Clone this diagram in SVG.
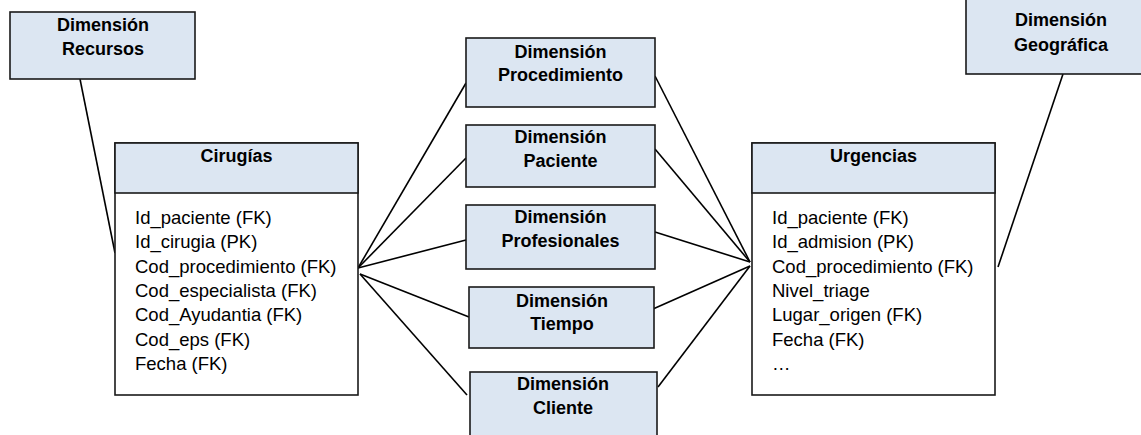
<svg xmlns="http://www.w3.org/2000/svg" width="1141" height="435" viewBox="0 0 1141 435">
  <style>
    .dim { fill: #dce6f2; stroke: #1a1a1a; stroke-width: 1.6; }
    .box { fill: #ffffff; stroke: #1a1a1a; stroke-width: 1.6; }
    .hdr { fill: #dce6f2; stroke: #1a1a1a; stroke-width: 1.6; }
    .t { font-family: "Liberation Sans", Arial, sans-serif; font-size: 18px; font-weight: bold; fill: #000; text-anchor: middle; }
    .f { font-family: "Liberation Sans", Arial, sans-serif; font-size: 18.5px; fill: #000; }
    .c { stroke: #000; stroke-width: 1.6; fill: none; }
  </style>
  <rect width="1141" height="435" fill="#ffffff"/>

  <g id="connectors">
    <line class="c" x1="80" y1="79" x2="115" y2="253"/>
    <line class="c" x1="358" y1="268" x2="466" y2="83"/>
    <line class="c" x1="358" y1="268" x2="466" y2="158"/>
    <line class="c" x1="358" y1="268" x2="466" y2="240"/>
    <line class="c" x1="360" y1="274" x2="469" y2="317"/>
    <line class="c" x1="360" y1="274" x2="467" y2="395"/>
    <line class="c" x1="655" y1="76" x2="750" y2="262"/>
    <line class="c" x1="655" y1="149" x2="750" y2="262"/>
    <line class="c" x1="655" y1="232" x2="750" y2="262"/>
    <line class="c" x1="653" y1="309" x2="750" y2="266"/>
    <line class="c" x1="658" y1="387" x2="750" y2="266"/>
    <line class="c" x1="1063" y1="74" x2="998" y2="267"/>
  </g>

  <g id="dim-recursos">
    <rect class="dim" x="10" y="12" width="185" height="67"/>
    <text class="t" x="103" y="31">Dimensión</text>
    <text class="t" x="103" y="55">Recursos</text>
  </g>

  <g id="dim-geografica">
    <rect class="dim" x="966" y="-1" width="190" height="75"/>
    <text class="t" x="1061" y="26">Dimensión</text>
    <text class="t" x="1061" y="51">Geográfica</text>
  </g>

  <g id="dim-procedimiento">
    <rect class="dim" x="466" y="38" width="189" height="69"/>
    <text class="t" x="560.5" y="58">Dimensión</text>
    <text class="t" x="560.5" y="81">Procedimiento</text>
  </g>

  <g id="dim-paciente">
    <rect class="dim" x="466" y="125" width="189" height="62"/>
    <text class="t" x="560.5" y="143">Dimensión</text>
    <text class="t" x="560.5" y="167">Paciente</text>
  </g>

  <g id="dim-profesionales">
    <rect class="dim" x="466" y="205" width="189" height="64"/>
    <text class="t" x="560.5" y="223">Dimensión</text>
    <text class="t" x="560.5" y="247">Profesionales</text>
  </g>

  <g id="dim-tiempo">
    <rect class="dim" x="469" y="287" width="185" height="61"/>
    <text class="t" x="562" y="307">Dimensión</text>
    <text class="t" x="562" y="330">Tiempo</text>
  </g>

  <g id="dim-cliente">
    <rect class="dim" x="470" y="372" width="187" height="70"/>
    <text class="t" x="563" y="390">Dimensión</text>
    <text class="t" x="563" y="414">Cliente</text>
  </g>

  <g id="cirugias">
    <rect class="box" x="115" y="143" width="243" height="252"/>
    <rect class="hdr" x="115" y="143" width="243" height="50"/>
    <text class="t" x="236.5" y="162">Cirugías</text>
    <text class="f" x="135" y="224">Id_paciente (FK)</text>
    <text class="f" x="135" y="248.3">Id_cirugia (PK)</text>
    <text class="f" x="135" y="272.6">Cod_procedimiento (FK)</text>
    <text class="f" x="135" y="297">Cod_especialista (FK)</text>
    <text class="f" x="135" y="321.3">Cod_Ayudantia (FK)</text>
    <text class="f" x="135" y="345.6">Cod_eps (FK)</text>
    <text class="f" x="135" y="370">Fecha (FK)</text>
  </g>

  <g id="urgencias">
    <rect class="box" x="752" y="143" width="243" height="252"/>
    <rect class="hdr" x="752" y="143" width="243" height="50"/>
    <text class="t" x="873.5" y="162">Urgencias</text>
    <text class="f" x="772" y="224">Id_paciente (FK)</text>
    <text class="f" x="772" y="248.3">Id_admision (PK)</text>
    <text class="f" x="772" y="272.6">Cod_procedimiento (FK)</text>
    <text class="f" x="772" y="297">Nivel_triage</text>
    <text class="f" x="772" y="321.3">Lugar_origen (FK)</text>
    <text class="f" x="772" y="345.6">Fecha (FK)</text>
    <text class="f" x="772" y="370">…</text>
  </g>
</svg>
